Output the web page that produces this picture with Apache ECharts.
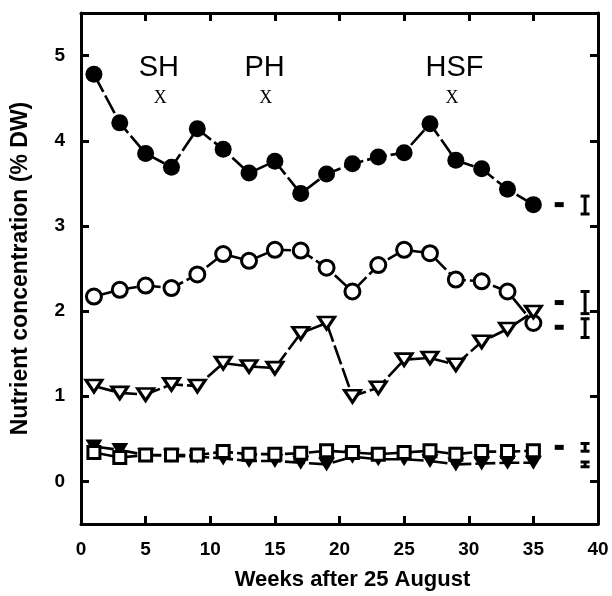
<!DOCTYPE html>
<html>
<head>
<meta charset="utf-8">
<script src="https://cdn.jsdelivr.net/npm/echarts@6/dist/echarts.min.js"></script>
<style>
html,body{margin:0;padding:0;background:#fff;}
#c{width:612px;height:596px;}
</style>
</head>
<body>
<div id="c"></div>
<script>
// ---- data ----
const weeks = [1,3,5,7,9,11,13,15,17,19,21,23,25,27,29,31,33,35];
const closedCircles = [4.78,4.21,3.85,3.69,4.14,3.90,3.62,3.76,3.38,3.61,3.73,3.81,3.86,4.20,3.77,3.67,3.43,3.25];
const openCircles = [2.17,2.25,2.30,2.27,2.43,2.67,2.59,2.72,2.71,2.51,2.23,2.54,2.72,2.68,2.37,2.35,2.23,1.86];
const openTriangles = [1.12,1.04,1.02,1.14,1.12,1.39,1.35,1.33,1.74,1.86,1.00,1.10,1.43,1.45,1.37,1.64,1.79,1.99];
const filledTriangles = [0.41,0.37,0.31,0.30,0.29,0.27,0.24,0.24,0.22,0.20,0.29,0.26,0.26,0.24,0.20,0.21,0.22,0.22];
const openSquares = [0.34,0.28,0.31,0.31,0.31,0.35,0.32,0.32,0.33,0.36,0.34,0.32,0.34,0.36,0.32,0.35,0.35,0.36];

const dashX = 37;
const dashY = [3.25, 2.10, 1.81, 0.40];
const errX = 39;
const errMean = [3.245, 2.10, 1.80, 0.40, 0.20];
const errHalf = [0.105, 0.13, 0.11, 0.045, 0.028];

const stageLabels = ['SH', 'PH', 'HSF'];
const stageX = [6.02, 14.2, 28.9];
const stageY = [4.86, 4.86, 4.86];
const markX = [6.13, 14.3, 28.7];
const markY = [4.50, 4.50, 4.50];

const xTicks = [0,5,10,15,20,25,30,35,40];
const yTicks = [0,1,2,3,4,5];

// ---- chart ----
const chart = echarts.init(document.getElementById('c'), null, {renderer:'canvas'});
const pair = arr => weeks.map((w,i) => [w, arr[i]]);
const lineStyle = {color:'#000', width:2.6, type:[20,4]};
const axisCommon = {
  type:'value',
  splitLine:{show:false},
  axisLine:{show:true, onZero:false, lineStyle:{color:'#000', width:3}},
  axisTick:{show:true, inside:true, length:8, lineStyle:{color:'#000', width:3}},
};
const FONT = 'Liberation Sans, Arial, sans-serif';
const labelFont = {color:'#000', fontSize:19, fontWeight:'bold', fontFamily:FONT};

const option = {
  animation:false,
  backgroundColor:'#fff',
  grid:{left:81, top:13, width:517, height:516, containLabel:false},
  xAxis:[
    Object.assign({}, axisCommon, {
      position:'bottom', min:0, max:40, interval:5,
      axisLabel:Object.assign({show:true, margin:16, customValues:xTicks}, labelFont),
      name:'Weeks after 25 August', nameLocation:'middle', nameGap:45,
      nameTextStyle:{color:'#000', fontSize:22, fontWeight:'bold', fontFamily:FONT, padding:[0,0,0,26]}
    }),
    Object.assign({}, axisCommon, {
      position:'top', min:0, max:40, interval:5,
      axisLabel:{show:false}
    })
  ],
  yAxis:[
    Object.assign({}, axisCommon, {
      position:'left', min:-0.5, max:5.5,
      axisTick:{show:true, inside:true, length:8, lineStyle:{color:'#000', width:3}, customValues:yTicks},
      axisLabel:Object.assign({show:true, margin:16, customValues:yTicks}, labelFont),
      name:'Nutrient concentration (% DW)', nameLocation:'middle', nameGap:49,
      nameTextStyle:{color:'#000', fontSize:23, fontWeight:'bold', fontFamily:FONT}
    }),
    Object.assign({}, axisCommon, {
      position:'right', min:-0.5, max:5.5,
      axisTick:{show:true, inside:true, length:8, lineStyle:{color:'#000', width:3}, customValues:yTicks},
      axisLabel:{show:false}
    })
  ],
  series:[
    {type:'line', data:pair(closedCircles), symbol:'circle', symbolSize:17,
     itemStyle:{color:'#000'}, lineStyle:lineStyle},
    {type:'line', data:pair(openCircles), symbol:'circle', symbolSize:15,
     itemStyle:{color:'#fff', borderColor:'#000', borderWidth:3}, lineStyle:lineStyle},
    {type:'line', data:pair(openTriangles), symbol:'triangle', symbolRotate:180, symbolSize:[16,12],
     itemStyle:{color:'#fff', borderColor:'#000', borderWidth:3}, lineStyle:lineStyle},
    {type:'line', data:pair(filledTriangles), symbol:'triangle', symbolRotate:180, symbolSize:[17,14],
     itemStyle:{color:'#000'}, lineStyle:lineStyle},
    {type:'line', data:pair(openSquares), symbol:'rect', symbolSize:12,
     itemStyle:{color:'#fff', borderColor:'#000', borderWidth:3}, lineStyle:lineStyle},
    {type:'scatter', data:dashY.map(y => [dashX, y]), symbol:'rect', symbolSize:[9,5],
     itemStyle:{color:'#000', opacity:1}},
    {type:'custom', data:errMean.map((m,i) => [errX, m, errHalf[i]]),
     renderItem:function(params, api){
       const x = api.value(0), m = api.value(1), h = api.value(2);
       const top = api.coord([x, m + h]);
       const bot = api.coord([x, m - h]);
       const cw = 4.5;
       const st = {stroke:'#000', lineWidth:3};
       return {type:'group', children:[
         {type:'line', shape:{x1:top[0], y1:top[1], x2:bot[0], y2:bot[1]}, style:st},
         {type:'line', shape:{x1:top[0]-cw, y1:top[1], x2:top[0]+cw, y2:top[1]}, style:st},
         {type:'line', shape:{x1:bot[0]-cw, y1:bot[1], x2:bot[0]+cw, y2:bot[1]}, style:st}
       ]};
     }},
    {type:'scatter', data:stageLabels.map((t,i) => [stageX[i], stageY[i], t]),
     symbol:'circle', symbolSize:0, itemStyle:{color:'#000', opacity:1},
     label:{show:true, position:'inside', formatter:p => p.data[2], opacity:1,
       color:'#000', fontSize:29, fontWeight:'normal', fontFamily:FONT}},
    {type:'scatter', data:markX.map((x,i) => [x, markY[i], 'X']),
     symbol:'circle', symbolSize:0, itemStyle:{color:'#000', opacity:1},
     label:{show:true, position:'inside', formatter:p => p.data[2], opacity:1,
       color:'#000', fontSize:18, fontFamily:'Liberation Serif, serif'}}
  ]
};
chart.setOption(option);
</script>
</body>
</html>
